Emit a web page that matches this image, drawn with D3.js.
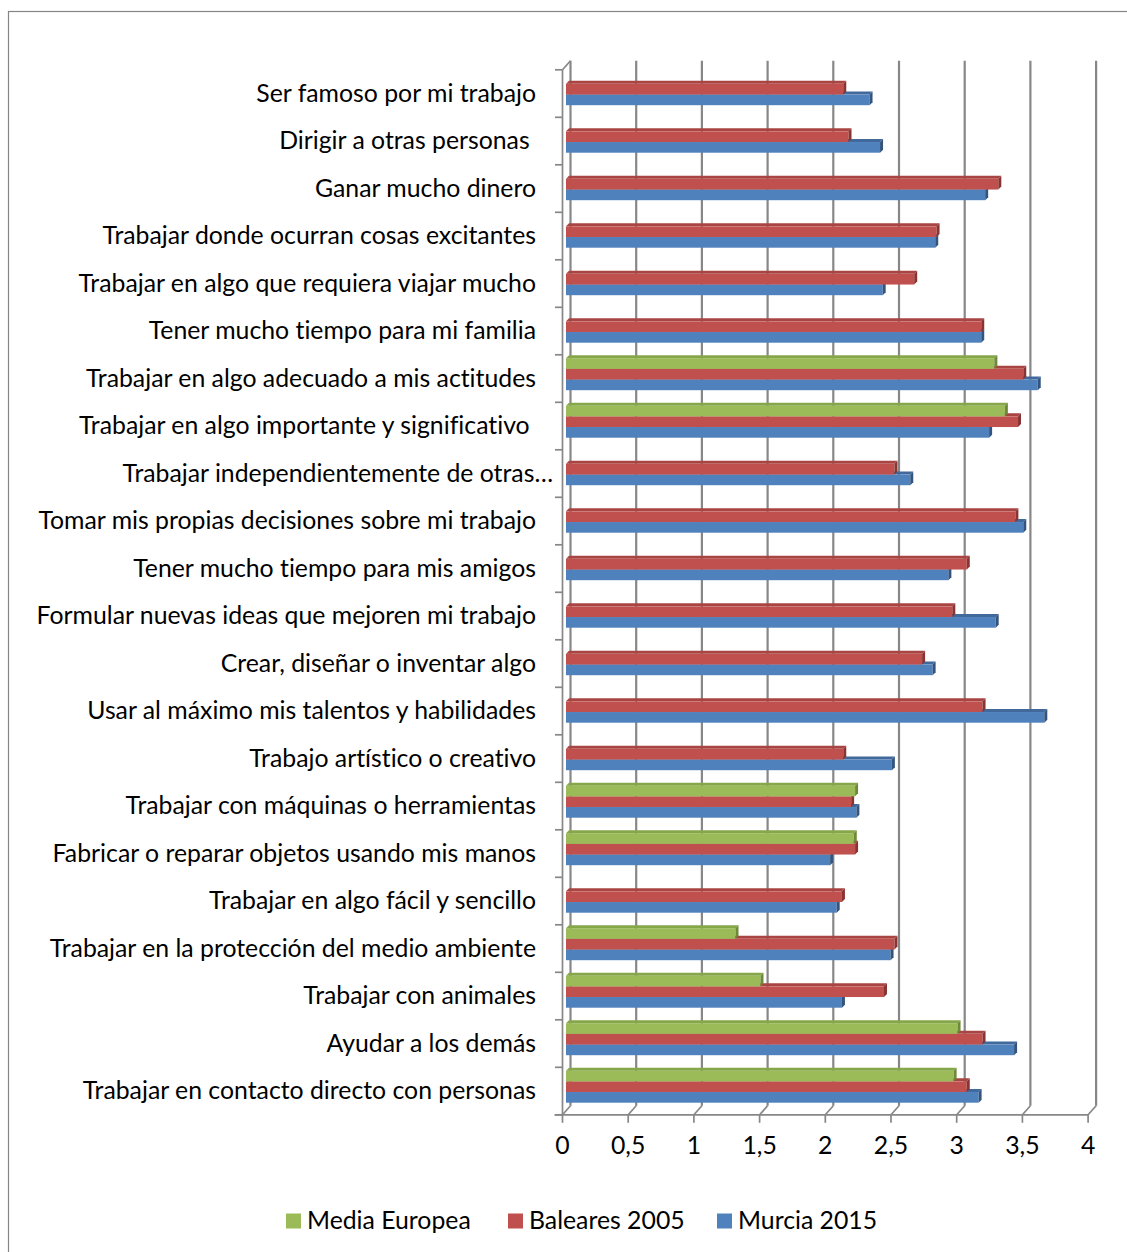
<!DOCTYPE html>
<html>
<head>
<meta charset="utf-8">
<script src="https://cdn.jsdelivr.net/npm/d3@7"></script>
<style>
  html, body { margin: 0; padding: 0; background: #fff; }
  svg { display: block; }
  text { font-family: Lato, "Open Sans", sans-serif; fill: #000; font-variant-ligatures: none; font-feature-settings: "liga" 0, "clig" 0; }
</style>
</head>
<body>
<svg id="chart" width="1127" height="1252"></svg>
<script>
// Job values: mean rating per item (0–4 scale)
const categories = [
  "Ser famoso por mi trabajo",
  "Dirigir a otras personas ",
  "Ganar mucho dinero",
  "Trabajar donde ocurran cosas excitantes",
  "Trabajar en algo que requiera viajar mucho",
  "Tener mucho tiempo para mi familia",
  "Trabajar en algo adecuado a mis actitudes",
  "Trabajar en algo importante y significativo ",
  "Trabajar independientemente de otras…",
  "Tomar mis propias decisiones sobre mi trabajo",
  "Tener mucho tiempo para mis amigos",
  "Formular nuevas ideas que mejoren mi trabajo",
  "Crear, diseñar o inventar algo",
  "Usar al máximo mis talentos y habilidades",
  "Trabajo artístico o creativo",
  "Trabajar con máquinas o herramientas",
  "Fabricar o reparar objetos usando mis manos",
  "Trabajar en algo fácil y sencillo",
  "Trabajar en la protección del medio ambiente",
  "Trabajar con animales",
  "Ayudar a los demás",
  "Trabajar en contacto directo con personas"
];

const seriesNames = ["Media Europea", "Baleares 2005", "Murcia 2015"];

const mediaEuropea = [null, null, null, null, null, null, 3.26, 3.34, null, null, null, null,
                      null, null, null, 2.20, 2.19, null, 1.29, 1.48, 2.98, 2.95];
const baleares2005 = [2.11, 2.15, 3.29, 2.82, 2.65, 3.16, 3.48, 3.44, 2.50, 3.42, 3.05, 2.94,
                      2.71, 3.17, 2.11, 2.17, 2.20, 2.10, 2.50, 2.42, 3.17, 3.05];
const murcia2015 = [2.31, 2.39, 3.19, 2.81, 2.41, 3.16, 3.59, 3.22, 2.62, 3.48, 2.91, 3.27,
                    2.79, 3.64, 2.48, 2.21, 2.01, 2.06, 2.47, 2.10, 3.41, 3.14];

const xTicks = [0, 0.5, 1, 1.5, 2, 2.5, 3, 3.5, 4];

const colors = { "Media Europea": "#9BBB59", "Baleares 2005": "#C0504D", "Murcia 2015": "#4F81BD" };
const topColors = { "Media Europea": "#86A64A", "Baleares 2005": "#A84442", "Murcia 2015": "#41699C" };
const capColors = { "Media Europea": "#6E8A38", "Baleares 2005": "#8A3432", "Murcia 2015": "#33547E" };

const fontSize = 24.8;

const svg = d3.select("#chart");
const esLocale = d3.formatLocale({ decimal: ",", thousands: ".", grouping: [3], currency: ["", " €"] });
const fmt = esLocale.format("~g");

// frame
svg.append("rect")
  .attr("x", 8.5).attr("y", 11.5).attr("width", 1130).attr("height", 1250)
  .attr("fill", "none").attr("stroke", "#868686").attr("stroke-width", 1.2);

// 3D geometry
const depthX = 8, depthY = -9;      // offset from floor front to back wall
const x = d3.scaleLinear().domain([0, 4]).range([562.5, 1088.1]);
const xBar = v => x(v) + 3.5;        // bars sit at mid depth
const y = d3.scaleBand().domain(categories).range([69.8, 1114.8]).paddingInner(0);
const ySeries = d3.scaleBand().domain(seriesNames).range([3.4, 35.4]);
const barDepth = 3;

const gridColor = "#878787";

// back wall gridlines
svg.append("g").selectAll("line").data(xTicks).join("line")
  .attr("x1", d => x(d) + depthX).attr("x2", d => x(d) + depthX)
  .attr("y1", y.range()[0] + depthY).attr("y2", y.range()[1] + depthY)
  .attr("stroke", gridColor).attr("stroke-width", 2.2);

// floor: front edge, depth diagonals, tick marks
const floor = svg.append("g").attr("stroke", gridColor).attr("stroke-width", 1.7).attr("fill", "none");
floor.append("line")
  .attr("x1", x(0) - 8).attr("x2", x(4))
  .attr("y1", y.range()[1]).attr("y2", y.range()[1]);
floor.selectAll("line.diag").data(xTicks).join("line").attr("class", "diag")
  .attr("x1", d => x(d)).attr("y1", y.range()[1])
  .attr("x2", d => x(d) + depthX).attr("y2", y.range()[1] + depthY);
floor.selectAll("line.tick").data(xTicks).join("line").attr("class", "tick")
  .attr("x1", d => x(d)).attr("x2", d => x(d))
  .attr("y1", y.range()[1]).attr("y2", y.range()[1] + 8);

// left wall: front edge, top diagonal, category ticks
const wall = svg.append("g").attr("stroke", gridColor).attr("stroke-width", 1.7).attr("fill", "none");
wall.append("line")
  .attr("x1", x(0)).attr("x2", x(0))
  .attr("y1", y.range()[0]).attr("y2", y.range()[1]);
wall.append("line")
  .attr("x1", x(0)).attr("y1", y.range()[0])
  .attr("x2", x(0) + depthX).attr("y2", y.range()[0] + depthY);
const boundaries = categories.map(c => y(c)).concat([y.range()[1]]);
wall.selectAll("line.ctick").data(boundaries).join("line").attr("class", "ctick")
  .attr("x1", x(0) - 7.5).attr("x2", x(0))
  .attr("y1", d => d).attr("y2", d => d);

// bars: lower series drawn first so upper bars overlap their top faces
const seriesData = {
  "Media Europea": mediaEuropea,
  "Baleares 2005": baleares2005,
  "Murcia 2015": murcia2015
};
const bars = [];
categories.forEach((c, i) => {
  ["Murcia 2015", "Baleares 2005", "Media Europea"].forEach(s => {
    const v = seriesData[s][i];
    if (v != null) bars.push({ cat: c, series: s, value: v });
  });
});

const barG = svg.append("g").selectAll("g").data(bars).join("g");
barG.each(function (d) {
  const g = d3.select(this);
  const x0 = xBar(0), x1 = xBar(d.value);
  const yt = y(d.cat) + ySeries(d.series), h = ySeries.bandwidth();
  g.append("polygon")
    .attr("points", [[x0, yt], [x1, yt], [x1 + barDepth, yt - barDepth], [x0 + barDepth, yt - barDepth]].join(" "))
    .attr("fill", topColors[d.series]);
  g.append("rect")
    .attr("x", x0).attr("y", yt).attr("width", x1 - x0).attr("height", h)
    .attr("fill", colors[d.series]);
  g.append("polygon")
    .attr("points", [[x1, yt], [x1 + barDepth, yt - barDepth], [x1 + barDepth, yt + h - barDepth], [x1, yt + h]].join(" "))
    .attr("fill", capColors[d.series]);
});

// category labels
svg.append("g").selectAll("text").data(categories).join("text")
  .attr("x", d => d.endsWith("…") ? 553 : 536)
  .attr("y", d => y(d) + y.bandwidth() / 2)
  .attr("dy", "0.33em")
  .attr("text-anchor", "end")
  .attr("font-size", fontSize)
  .style("white-space", "pre")
  .text(d => d);

// value axis labels
svg.append("g").selectAll("text").data(xTicks).join("text")
  .attr("x", d => x(d))
  .attr("y", 1146)
  .attr("dy", "0.33em")
  .attr("text-anchor", "middle")
  .attr("font-size", fontSize)
  .text(d => fmt(d));

// legend
const legendX = [286, 508, 717];
const legend = svg.append("g").selectAll("g").data(seriesNames).join("g")
  .attr("transform", (d, i) => `translate(${legendX[i]},1221)`);
legend.append("rect")
  .attr("x", 0).attr("y", -7.5).attr("width", 15).attr("height", 15)
  .attr("fill", d => colors[d]);
legend.append("text")
  .attr("x", 21).attr("y", 0).attr("dy", "0.33em")
  .attr("font-size", fontSize)
  .text(d => d);
</script>
</body>
</html>
